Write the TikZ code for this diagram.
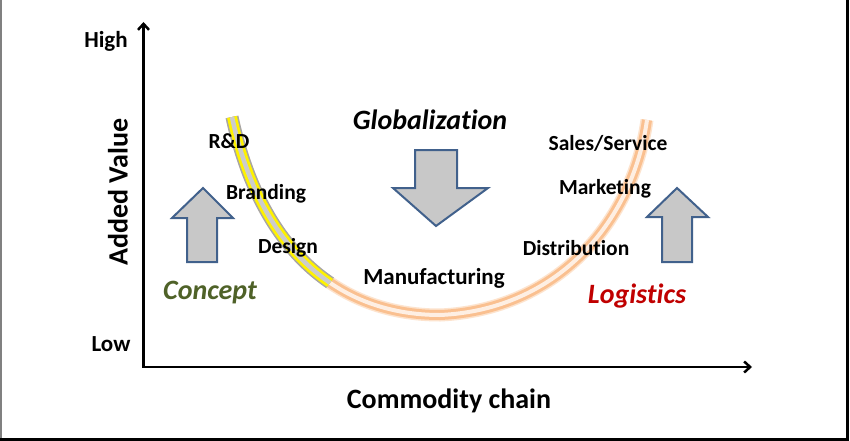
\documentclass[tikz,border=0pt]{standalone}
\usepackage{fontspec}
\setmainfont{Carlito}[Ligatures={NoCommon}]
\usetikzlibrary{arrows.meta}
\definecolor{peach}{HTML}{FAC090}
\definecolor{conceptgreen}{HTML}{4F6228}
\definecolor{logred}{HTML}{C00000}
\definecolor{arrowblue}{HTML}{41618C}
\definecolor{arrowfill}{HTML}{C8C8C8}
\tikzset{
  lbl/.style={font=\fontsize{21.5}{24}\selectfont\bfseries, inner sep=0pt},
  axlbl/.style={font=\fontsize{23}{26}\selectfont\bfseries, inner sep=0pt},
  title/.style={font=\fontsize{28}{32}\selectfont\bfseries, inner sep=0pt},
  ital/.style={font=\fontsize{28}{32}\selectfont\bfseries\itshape, inner sep=0pt},
  axis/.style={line width=2.5pt, -{Straight Barb[length=6pt,width=11pt,line width=2.5pt]}},
  blockarrow/.style={draw=arrowblue, fill=arrowfill, line width=2pt, line join=miter},
}
\begin{document}
\begin{tikzpicture}[x=1pt,y=-1pt]
\useasboundingbox (0,0) rectangle (850,441);
\fill[white] (0,0) rectangle (850,441);
% frame
\draw[gray, line width=1.5pt] (1,0) -- (1,441);
\draw[black, line width=2.5pt] (0,439.5) -- (848,439.5);
\draw[black, line width=2.5pt] (847.5,0) -- (847.5,441);

% U curve
\coordinate (Ltop) at (232,117);
\coordinate (Bot) at (440,315);
\coordinate (Rtop) at (647,120);
\def\ucurve{(Ltop) .. controls (260,248) and (337,315) .. (Bot) .. controls (555,310) and (632,225) .. (Rtop)}
\draw[peach!45, line width=13pt] \ucurve;
\draw[peach, line width=10pt] \ucurve;
\draw[peach!25, line width=4pt] \ucurve;
\begin{scope}
\clip (0,0) -- (556,-18) -- (218,432) -- (0,432) -- cycle;
\draw[gray!70, line width=13pt] (Ltop) .. controls (260,248) and (337,315) .. (Bot);
\draw[yellow, line width=10pt] (Ltop) .. controls (260,248) and (337,315) .. (Bot);
\draw[gray!40, line width=4.5pt] (Ltop) .. controls (260,248) and (337,315) .. (Bot);
\end{scope}

% axes
\coordinate (O) at (143.5,367);
\coordinate (Ytop) at (143.5,22);
\coordinate (Xend) at (752,367);
\draw[axis] (O) -- (Ytop);
\draw[axis] ([xshift=-1.25pt]O) -- (Xend);

% block arrows
\draw[blockarrow] (203,188) -- (233,218) -- (217,218) -- (217,262) -- (187,262) -- (187,218) -- (172,218) -- cycle;
\draw[blockarrow] (677,188) -- (708,217) -- (692,217) -- (692,262) -- (662,262) -- (662,217) -- (647,217) -- cycle;
\draw[blockarrow] (415,150) -- (457,150) -- (457,188) -- (488,188) -- (436,226) -- (393,188) -- (415,188) -- cycle;

% labels
\node[axlbl] (high) at (106,41) {High};
\node[axlbl] (low) at (111,344) {Low};
\node[title, rotate=90] (yl) at (118,192) {Added Value};
\node[title] (xl) at (449,401) {Commodity chain};
\node[ital] (glob) at (430,120) {Globalization};
\node[lbl] (rd) at (229,141) {R\&D};
\node[lbl] (brand) at (266,194) {Branding};
\node[lbl] (design) at (288,248) {Design};
\node[lbl, font=\fontsize{23}{26}\selectfont\bfseries] (manu) at (434,278) {Manufacturing};
\node[lbl] (sales) at (608,143) {Sales/Service};
\node[lbl] (mark) at (605,189) {Marketing};
\node[lbl] (dist) at (576,248) {Distribution};
\node[ital, text=conceptgreen] (concept) at (210,293) {Concept};
\node[ital, text=logred] (log) at (637,296) {Logistics};
\end{tikzpicture}
\end{document}
